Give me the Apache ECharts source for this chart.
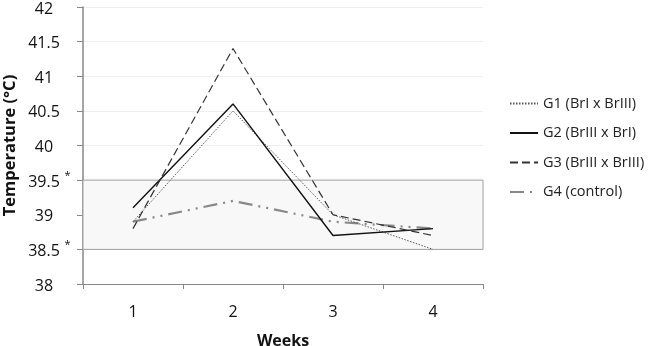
<!DOCTYPE html>
<html><head><meta charset="utf-8">
<script src="https://cdn.jsdelivr.net/npm/echarts@6/dist/echarts.min.js"></script>
<style>html,body{margin:0;padding:0;background:#fff}#c{width:649px;height:346px}</style>
</head><body><div id="c"></div>
<script>
const weeks = ['1','2','3','4'];
const g1 = [38.9, 40.5, 39.0, 38.5];
const g2 = [39.1, 40.6, 38.7, 38.8];
const g3 = [38.8, 41.4, 39.0, 38.7];
const g4 = [38.9, 39.2, 38.9, 38.8];
const names = ['G1 (BrI x BrIII)','G2 (BrIII x BrI)','G3 (BrIII x BrIII)','G4 (control)'];
const bandLow = 38.5, bandHigh = 39.5;
const yMin = 38, yMax = 42, yStep = 0.5;

const font = '"Open Sans", Lato, sans-serif';
const chart = echarts.init(document.getElementById('c'), null, {renderer:'canvas'});
chart.setOption({
  animation:false,
  grid:{left:83,right:166,top:7,bottom:62,outerBoundsMode:'none',containLabel:false},
  legend:{
    orient:'vertical', left:504, top:91,
    itemWidth:28, itemHeight:14, itemGap:14.5,
    itemStyle:{opacity:0},
    textStyle:{fontFamily:font,fontSize:14.5,color:'#222'},
    data:names
  },
  xAxis:{
    type:'category', data:weeks, boundaryGap:true,
    name:'Weeks', nameLocation:'middle', nameGap:49, nameMoveOverlap:false,
    nameTextStyle:{fontFamily:font,fontSize:16,fontWeight:'bold',color:'#111'},
    axisLine:{lineStyle:{color:'#888',width:1}},
    axisTick:{show:true,length:5,inside:false,lineStyle:{color:'#888'}},
    axisLabel:{fontFamily:font,fontSize:16,color:'#111',margin:20},
    splitLine:{show:false}
  },
  yAxis:{
    type:'value', min:yMin, max:yMax, interval:yStep,
    name:'Temperature (°C)', nameLocation:'middle', nameGap:64, nameMoveOverlap:false,
    nameTextStyle:{fontFamily:font,fontSize:16.5,fontWeight:'bold',color:'#111'},
    axisLine:{show:true,lineStyle:{color:'#888',width:1.5}},
    axisTick:{show:true,length:6,lineStyle:{color:'#888'}},
    axisLabel:{
      fontFamily:font,fontSize:16,color:'#111',margin:12,
      formatter:v => '{n|'+v+'}' + ((v===bandLow||v===bandHigh) ? '{s|*}' : '{s| }'),
      rich:{
        n:{fontFamily:font,fontSize:16,color:'#111',width:40,align:'right',padding:[4,0,0,0]},
        s:{fontFamily:font,fontSize:11,color:'#111',width:7,align:'left',verticalAlign:'top',padding:[0,0,0,0]}
      }
    },
    splitLine:{show:true,lineStyle:{color:'#efefef',width:1}}
  },
  series:[
    {name:names[0],type:'line',data:g1,showSymbol:false,symbol:'none',
     lineStyle:{color:'#555',width:1,type:[1.5,1.5]},itemStyle:{color:'#555'},
     markArea:{silent:true,itemStyle:{color:'#f8f8f8',borderColor:'#a0a0a0',borderWidth:1},
       data:[[{yAxis:bandLow},{yAxis:bandHigh}]]},
     z:3},
    {name:names[1],type:'line',data:g2,showSymbol:false,symbol:'none',
     lineStyle:{color:'#111',width:1.4,type:'solid'},itemStyle:{color:'#111'},z:4},
    {name:names[2],type:'line',data:g3,showSymbol:false,symbol:'none',
     lineStyle:{color:'#333',width:1.2,type:[8,4]},itemStyle:{color:'#333'},z:4},
    {name:names[3],type:'line',data:g4,showSymbol:false,symbol:'none',
     lineStyle:{color:'#888',width:2.2,type:[14,6,2,6,2,6]},itemStyle:{color:'#888'},z:2}
  ]
});
</script></body></html>
